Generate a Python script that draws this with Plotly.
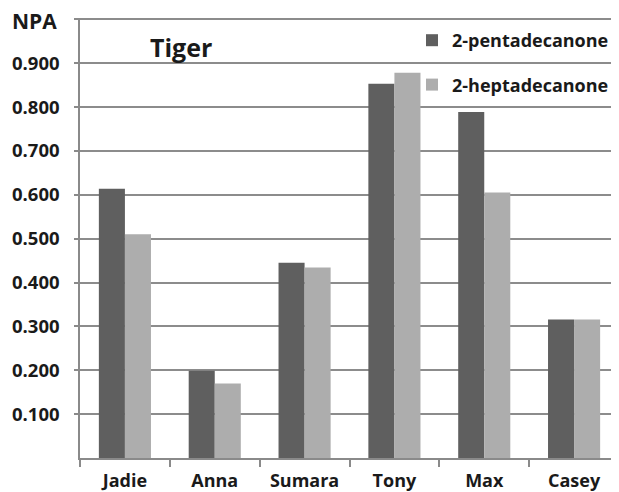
import plotly.graph_objects as go

categories = ["Jadie", "Anna", "Sumara", "Tony", "Max", "Casey"]
pentadecanone = [0.614, 0.199, 0.445, 0.853, 0.789, 0.316]
heptadecanone = [0.510, 0.170, 0.434, 0.878, 0.605, 0.316]
series_names = ["2-pentadecanone", "2-heptadecanone"]
y_tickvals = [0.1, 0.2, 0.3, 0.4, 0.5, 0.6, 0.7, 0.8, 0.9, 1.0]
y_ticktext = ["0.100", "0.200", "0.300", "0.400", "0.500", "0.600", "0.700", "0.800", "0.900", ""]

FONT = "Open Sans"
TXT = "#1a1a1a"

# the page body adds an 8px offset; figure size compensates
W, H = 611, 484
L, R, T, B = 72, 0, 10, 34
PW, PH = W - L - R, H - T - B

fig = go.Figure()
fig.add_trace(go.Bar(x=categories, y=pentadecanone, name=series_names[0],
                     marker=dict(color="#5f5f5f", line=dict(width=0)),
                     legendgroup="a"))
fig.add_trace(go.Bar(x=categories, y=heptadecanone, name=series_names[1],
                     marker=dict(color="#adadad", line=dict(width=0)),
                     legendgroup="b"))

fig.update_layout(
    width=W, height=H,
    margin=dict(l=L, r=R, t=T, b=B),
    paper_bgcolor="white", plot_bgcolor="white",
    barmode="group", bargap=0.42, bargroupgap=0,
    font=dict(family=FONT, color=TXT),
    showlegend=True,
    legend=dict(x=(404 - L) / PW, xanchor="left", y=1 - 4 / PH, yanchor="top",
                bgcolor="rgba(0,0,0,0)", borderwidth=0,
                font=dict(family=FONT, size=18, color=TXT, weight="bold"),
                tracegroupgap=18, itemwidth=30),
    xaxis=dict(showline=True, linecolor="#8a8a8a", linewidth=1.5,
               ticks="outside", tickson="boundaries", ticklen=7, tickcolor="#8a8a8a",
               tickwidth=1.5, ticklabelstandoff=6,
               tickfont=dict(family=FONT, size=18, color=TXT, weight="bold"),
               showgrid=False),
    yaxis=dict(range=[0, 1.003], tickvals=y_tickvals, ticktext=y_ticktext,
               showline=True, linecolor="#8a8a8a", linewidth=1.5,
               ticks="outside", ticklen=4, tickcolor="#8a8a8a", tickwidth=1.5,
               showgrid=True, gridcolor="#8c8c8c", gridwidth=1.5,
               zeroline=False,
               ticklabelstandoff=11,
               tickfont=dict(family=FONT, size=18.5, color=TXT, weight="bold")),
    annotations=[
        dict(text="NPA", xref="paper", yref="paper", x=(3 - L) / PW, y=1 + (T - 1) / PH,
             xanchor="left", yanchor="top", height=22, valign="middle", borderpad=0,
             showarrow=False,
             font=dict(family=FONT, size=21, color=TXT, weight="bold")),
        dict(text="Tiger", xref="paper", yref="paper", x=(173 - L) / PW, y=1 - 29 / PH,
             xanchor="center", yanchor="middle", showarrow=False,
             font=dict(family=FONT, size=25, color=TXT, weight="bold")),
    ],
)

fig.write_html("out.html")
